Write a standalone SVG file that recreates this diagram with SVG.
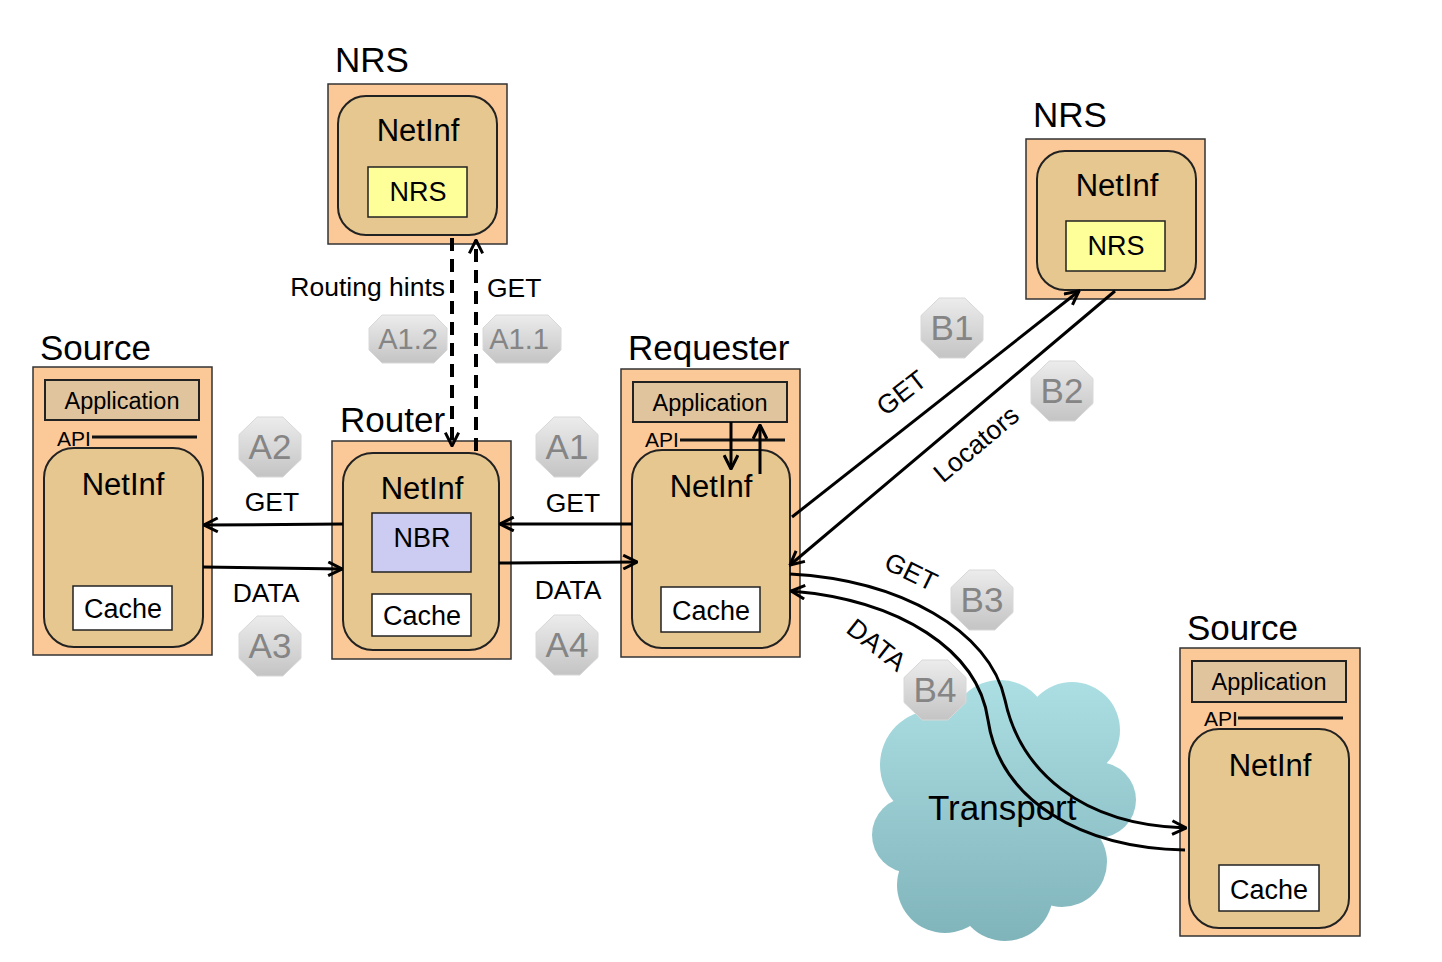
<svg xmlns="http://www.w3.org/2000/svg" width="1442" height="962" viewBox="0 0 1442 962">
<defs>
<marker id="arr" viewBox="0 0 12 12" refX="11" refY="6" markerWidth="5.5" markerHeight="5.5" orient="auto" markerUnits="strokeWidth">
<path d="M1,1 L11,6 L1,11" fill="none" stroke="#000" stroke-width="2.2"/>
</marker>
<marker id="arrd" viewBox="0 0 12 12" refX="11" refY="6" markerWidth="4" markerHeight="4" orient="auto" markerUnits="strokeWidth">
<path d="M1,1 L11,6 L1,11" fill="none" stroke="#000" stroke-width="2.2"/>
</marker>
<linearGradient id="badge" x1="0" y1="0" x2="0" y2="1">
<stop offset="0" stop-color="#ececec"/>
<stop offset="1" stop-color="#c4c4c4"/>
</linearGradient>
<linearGradient id="cloudg" gradientUnits="userSpaceOnUse" x1="0" y1="680" x2="0" y2="940">
<stop offset="0" stop-color="#abdfe3"/>
<stop offset="1" stop-color="#80b4bb"/>
</linearGradient>
<polygon id="oct" points="-12.8,-30 12.8,-30 31,-12.4 31,12.4 12.8,30 -12.8,30 -31,12.4 -31,-12.4"/>
<polygon id="octw" points="-26,-24 26,-24 39,-11 39,11 26,24 -26,24 -39,11 -39,-11"/>
</defs>
<style>
text{font-family:"Liberation Sans",Arial,sans-serif;fill:#000}
.outer{fill:#fbc898;stroke:#333;stroke-width:1.5}
.net{fill:#e6c78f;stroke:#222;stroke-width:2}
.app{fill:#dfc49e;stroke:#222;stroke-width:2}
.cache{fill:#fff;stroke:#222;stroke-width:1.5}
.nrs{fill:#ffff99;stroke:#222;stroke-width:1.5}
.nbr{fill:#ccccf2;stroke:#222;stroke-width:1.5}
.title{font-size:35px}
.netlbl{font-size:31px;text-anchor:middle}
.boxlbl{font-size:27px;text-anchor:middle}
.applbl{font-size:23.5px;text-anchor:middle}
.api{font-size:21px}
.apiline{stroke:#111;stroke-width:3}
.lbl{font-size:26.5px;text-anchor:middle}
.conn{stroke:#000;stroke-width:3;fill:none}
.dash{stroke:#000;stroke-width:4;fill:none;stroke-dasharray:13,8}
.b{fill:url(#badge);stroke:#d8d8d8;stroke-width:1}
.btxt{font-size:35px;text-anchor:middle;fill:#858585}
.btxts{font-size:29px;text-anchor:middle;fill:#858585}
</style>
<rect width="1442" height="962" fill="#fff"/>

<g id="cloud" fill="url(#cloudg)">
<circle cx="935" cy="765" r="55"/>
<circle cx="1000" cy="730" r="50"/>
<circle cx="1072" cy="730" r="48"/>
<circle cx="1098" cy="800" r="38"/>
<circle cx="910" cy="835" r="38"/>
<circle cx="945" cy="885" r="48"/>
<circle cx="1005" cy="893" r="48"/>
<circle cx="1062" cy="862" r="45"/>
<circle cx="1005" cy="810" r="75"/>
<text x="928" y="820" style="font-size:35px">Transport</text>
</g>

<g id="nrs-top">
<text x="335" y="72" class="title">NRS</text>
<rect x="328" y="84" width="179" height="160" class="outer"/>
<rect x="338" y="96" width="159" height="139" rx="28" class="net"/>
<text x="418" y="141" class="netlbl">NetInf</text>
<rect x="368" y="167" width="99" height="50" class="nrs"/>
<text x="418" y="201" class="boxlbl">NRS</text>
</g>

<g id="nrs-right">
<text x="1033" y="127" class="title">NRS</text>
<rect x="1026" y="139" width="179" height="160" class="outer"/>
<rect x="1037" y="151" width="159" height="139" rx="28" class="net"/>
<text x="1117" y="196" class="netlbl">NetInf</text>
<rect x="1066" y="221" width="99" height="50" class="nrs"/>
<text x="1116" y="255" class="boxlbl">NRS</text>
</g>

<g id="source-left">
<text x="40" y="360" class="title">Source</text>
<rect x="33" y="367" width="179" height="288" class="outer"/>
<rect x="45" y="380" width="154" height="40" class="app"/>
<text x="122" y="409" class="applbl">Application</text>
<text x="57" y="446" class="api">API</text>
<line x1="92" y1="437" x2="197" y2="437" class="apiline"/>
<rect x="44" y="448" width="159" height="199" rx="30" class="net"/>
<text x="123" y="495" class="netlbl">NetInf</text>
<rect x="73" y="586" width="99" height="44" class="cache"/>
<text x="123" y="618" class="boxlbl">Cache</text>
</g>

<g id="router">
<text x="340" y="432" class="title">Router</text>
<rect x="332" y="441" width="179" height="218" class="outer"/>
<rect x="343" y="453" width="156" height="197" rx="30" class="net"/>
<text x="422" y="499" class="netlbl">NetInf</text>
<rect x="372" y="513" width="99" height="59" class="nbr"/>
<text x="422" y="547" class="boxlbl">NBR</text>
<rect x="372" y="594" width="99" height="42" class="cache"/>
<text x="422" y="625" class="boxlbl">Cache</text>
</g>

<g id="requester">
<text x="628" y="360" class="title">Requester</text>
<rect x="621" y="369" width="179" height="288" class="outer"/>
<rect x="633" y="382" width="154" height="40" class="app"/>
<text x="710" y="411" class="applbl">Application</text>
<text x="645" y="447" class="api">API</text>
<line x1="680" y1="440" x2="785" y2="440" class="apiline"/>
<rect x="632" y="450" width="158" height="198" rx="30" class="net"/>
<text x="711" y="497" class="netlbl">NetInf</text>
<rect x="661" y="587" width="99" height="45" class="cache"/>
<text x="711" y="620" class="boxlbl">Cache</text>
<line x1="731" y1="422" x2="731" y2="469" class="conn" marker-end="url(#arr)"/>
<line x1="760" y1="474" x2="760" y2="425" class="conn" marker-end="url(#arr)"/>
</g>

<g id="source-right">
<text x="1187" y="640" class="title">Source</text>
<rect x="1180" y="648" width="180" height="288" class="outer"/>
<rect x="1192" y="661" width="154" height="41" class="app"/>
<text x="1269" y="690" class="applbl">Application</text>
<text x="1204" y="726" class="api">API</text>
<line x1="1238" y1="718" x2="1343" y2="718" class="apiline"/>
<rect x="1189" y="729" width="160" height="199" rx="30" class="net"/>
<text x="1270" y="776" class="netlbl">NetInf</text>
<rect x="1219" y="865" width="100" height="46" class="cache"/>
<text x="1269" y="899" class="boxlbl">Cache</text>
</g>

<g id="connectors">
<line x1="343" y1="524" x2="204" y2="525" class="conn" marker-end="url(#arr)"/>
<line x1="203" y1="567" x2="342" y2="569" class="conn" marker-end="url(#arr)"/>
<line x1="632" y1="524" x2="500" y2="524" class="conn" marker-end="url(#arr)"/>
<line x1="499" y1="563" x2="637" y2="562" class="conn" marker-end="url(#arr)"/>
<line x1="452" y1="238" x2="452" y2="446" class="dash" marker-end="url(#arrd)"/>
<line x1="476" y1="451" x2="476" y2="240" class="dash" marker-end="url(#arrd)"/>
<line x1="792" y1="517" x2="1079" y2="291" class="conn" marker-end="url(#arr)"/>
<line x1="1115" y1="291" x2="790" y2="565" class="conn" marker-end="url(#arr)"/>
<path d="M790,574 C900,580 990,630 1005,700 C1020,770 1080,825 1186,828" class="conn" marker-end="url(#arr)"/>
<path d="M1185,850 C1080,848 1000,800 988,720 C978,650 900,600 791,591" class="conn" marker-end="url(#arr)"/>
<text x="272" y="511" class="lbl">GET</text>
<text x="266" y="602" class="lbl">DATA</text>
<text x="573" y="512" class="lbl">GET</text>
<text x="568" y="599" class="lbl">DATA</text>
<text x="445" y="296" class="lbl" style="text-anchor:end">Routing hints</text>
<text x="487" y="297" class="lbl" style="text-anchor:start">GET</text>
<text x="0" y="0" class="lbl" transform="translate(907,400) rotate(-38)">GET</text>
<text x="0" y="0" class="lbl" transform="translate(982,451) rotate(-40)">Locators</text>
<text x="0" y="0" class="lbl" transform="translate(907,580) rotate(26)">GET</text>
<text x="0" y="0" class="lbl" transform="translate(871,652) rotate(38)">DATA</text>
</g>

<g id="badges">
<use href="#oct" x="270" y="447" class="b"/><text x="270" y="459" class="btxt">A2</text>
<use href="#oct" x="270" y="646" class="b"/><text x="270" y="658" class="btxt">A3</text>
<use href="#oct" x="567" y="447" class="b"/><text x="567" y="459" class="btxt">A1</text>
<use href="#oct" x="567" y="645" class="b"/><text x="567" y="657" class="btxt">A4</text>
<use href="#octw" x="408" y="339" class="b"/><text x="408" y="349" class="btxts">A1.2</text>
<use href="#octw" x="522" y="339" class="b"/><text x="519" y="349" class="btxts">A1.1</text>
<use href="#oct" x="952" y="328" class="b"/><text x="952" y="340" class="btxt">B1</text>
<use href="#oct" x="1062" y="391" class="b"/><text x="1062" y="403" class="btxt">B2</text>
<use href="#oct" x="982" y="600" class="b"/><text x="982" y="612" class="btxt">B3</text>
<use href="#oct" x="935" y="690" class="b"/><text x="935" y="702" class="btxt">B4</text>
</g>
</svg>
